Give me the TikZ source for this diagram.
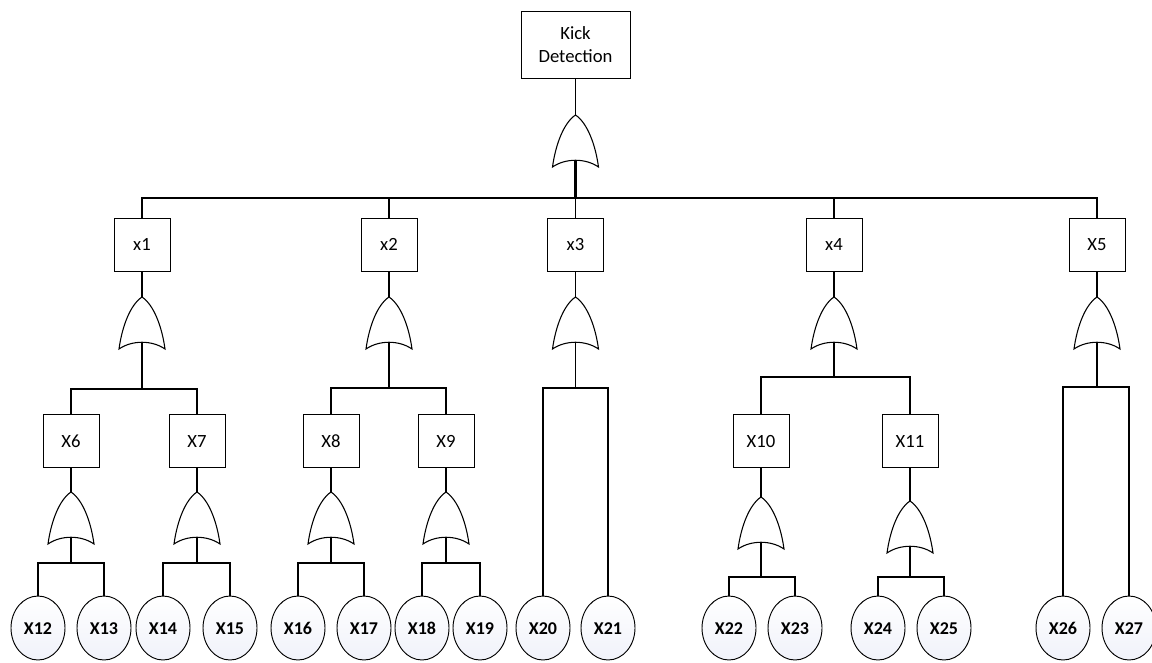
\documentclass[tikz,border=0pt]{standalone}
\usepackage{fontspec}
\setmainfont{Carlito}
\usepackage{tikz}
\usetikzlibrary{shapes.geometric}
\definecolor{evfill}{RGB}{240,242,250}
\tikzstyle{block} = [rectangle, draw, line width=0.7pt, fill=white,
    minimum width=42pt, minimum height=39.75pt, inner sep=1pt,
    font=\fontsize{14}{17}\selectfont]
\tikzstyle{topblock} = [block, minimum width=81.75pt, minimum height=50.25pt,
    align=center]
\tikzstyle{event} = [ellipse, draw, line width=0.7pt, top color=white,
    bottom color=evfill, minimum width=40.5pt, minimum height=48pt,
    inner sep=0pt, text height=9pt, text depth=0pt,
    font=\fontsize{13.5}{16}\selectfont\bfseries]
\tikzstyle{line} = [draw, line width=1.1pt]
\tikzset{orgate/.pic={
    \draw[line width=0.8pt, fill=white] (0,0) .. controls (-12,8) and (-20,30) .. (-23,52)
        .. controls (-10,43) and (10,43) .. (23,52)
        .. controls (20,30) and (12,8) .. cycle;
    \coordinate (-in) at (0,0);
    \coordinate (-out) at (0,46);
}}

\begin{document}
\begin{tikzpicture}[x=0.75pt, y=-0.75pt]
                \useasboundingbox (0,0) rectangle (1152,662);
                \node [topblock] at (575.5,44.5) (kick) {Kick\\Detection};
                \pic (gk) at (575.5,115) {orgate};
                \coordinate (b0) at (575.5,198);
                \node [block] at (142,244.5) (x1) {x1};
                \node [block] at (389,244.5) (x2) {x2};
                \node [block] at (575.5,244.5) (x3) {x3};
                \node [block] at (834,244.5) (x4) {x4};
                \node [block] at (1097,244.5) (x5) {X5};
                \pic (g1) at (142,297) {orgate};
                \pic (g2) at (389,297) {orgate};
                \pic (g3) at (575.5,297) {orgate};
                \pic (g4) at (834,297) {orgate};
                \pic (g5) at (1097,297) {orgate};
                \coordinate (b1) at (142,389);
                \coordinate (b2) at (389,388);
                \coordinate (b3) at (575.5,388);
                \coordinate (b4) at (834,377);
                \coordinate (b5) at (1097,387);
                \node [block] at (71,441) (x6) {X6};
                \node [block] at (197,441) (x7) {X7};
                \node [block] at (331,441) (x8) {X8};
                \node [block] at (446,441) (x9) {X9};
                \node [block] at (761,441) (x10) {X10};
                \node [block] at (910,441) (x11) {X11};
                \pic (g6) at (71,492) {orgate};
                \pic (g7) at (197,492) {orgate};
                \pic (g8) at (331,492) {orgate};
                \pic (g9) at (446,492) {orgate};
                \pic (g10) at (761,497) {orgate};
                \pic (g11) at (910,501) {orgate};
                \coordinate (b6) at (71,563);
                \coordinate (b7) at (197,563);
                \coordinate (b8) at (331,563);
                \coordinate (b9) at (446,563);
                \coordinate (b10) at (761,577);
                \coordinate (b11) at (910,577);
                \node [event] at (38,628) (x12) {X12};
                \node [event] at (104,628) (x13) {X13};
                \node [event] at (163,628) (x14) {X14};
                \node [event] at (230,628) (x15) {X15};
                \node [event] at (298,628) (x16) {X16};
                \node [event] at (364,628) (x17) {X17};
                \node [event] at (422,628) (x18) {X18};
                \node [event] at (480,628) (x19) {X19};
                \node [event] at (543,628) (x20) {X20};
                \node [event] at (608,628) (x21) {X21};
                \node [event] at (729,628) (x22) {X22};
                \node [event] at (795,628) (x23) {X23};
                \node [event] at (878,628) (x24) {X24};
                \node [event] at (944,628) (x25) {X25};
                \node [event] at (1063,628) (x26) {X26};
                \node [event] at (1129,628) (x27) {X27};
                \path [line] (kick) -- (gk-in);
                \path [line, line width=1.6pt] (gk-out) -- (b0);
                \path [line] (x1) |- (b0) -| (x5);
                \path [line] (x2) -- (x2 |- b0);
                \path [line] (x3) -- (b0);
                \path [line] (x4) -- (x4 |- b0);
                \path [line] (x1) -- (g1-in);
                \path [line] (x2) -- (g2-in);
                \path [line] (x3) -- (g3-in);
                \path [line] (x4) -- (g4-in);
                \path [line] (x5) -- (g5-in);
                \path [line] (g1-out) -- (b1);
                \path [line] (g2-out) -- (b2);
                \path [line] (g3-out) -- (b3);
                \path [line] (g4-out) -- (b4);
                \path [line] (g5-out) -- (b5);
                \path [line] (x6) |- (b1) -| (x7);
                \path [line] (x8) |- (b2) -| (x9);
                \path [line] (x20) |- (b3) -| (x21);
                \path [line] (x10) |- (b4) -| (x11);
                \path [line] (x26) |- (b5) -| (x27);
                \path [line] (x6) -- (g6-in);
                \path [line] (x7) -- (g7-in);
                \path [line] (x8) -- (g8-in);
                \path [line] (x9) -- (g9-in);
                \path [line] (x10) -- (g10-in);
                \path [line] (x11) -- (g11-in);
                \path [line] (g6-out) -- (b6);
                \path [line] (g7-out) -- (b7);
                \path [line] (g8-out) -- (b8);
                \path [line] (g9-out) -- (b9);
                \path [line] (g10-out) -- (b10);
                \path [line] (g11-out) -- (b11);
                \path [line] (x12) |- (b6) -| (x13);
                \path [line] (x14) |- (b7) -| (x15);
                \path [line] (x16) |- (b8) -| (x17);
                \path [line] (x18) |- (b9) -| (x19);
                \path [line] (x22) |- (b10) -| (x23);
                \path [line] (x24) |- (b11) -| (x25);
            \end{tikzpicture}
\end{document}
